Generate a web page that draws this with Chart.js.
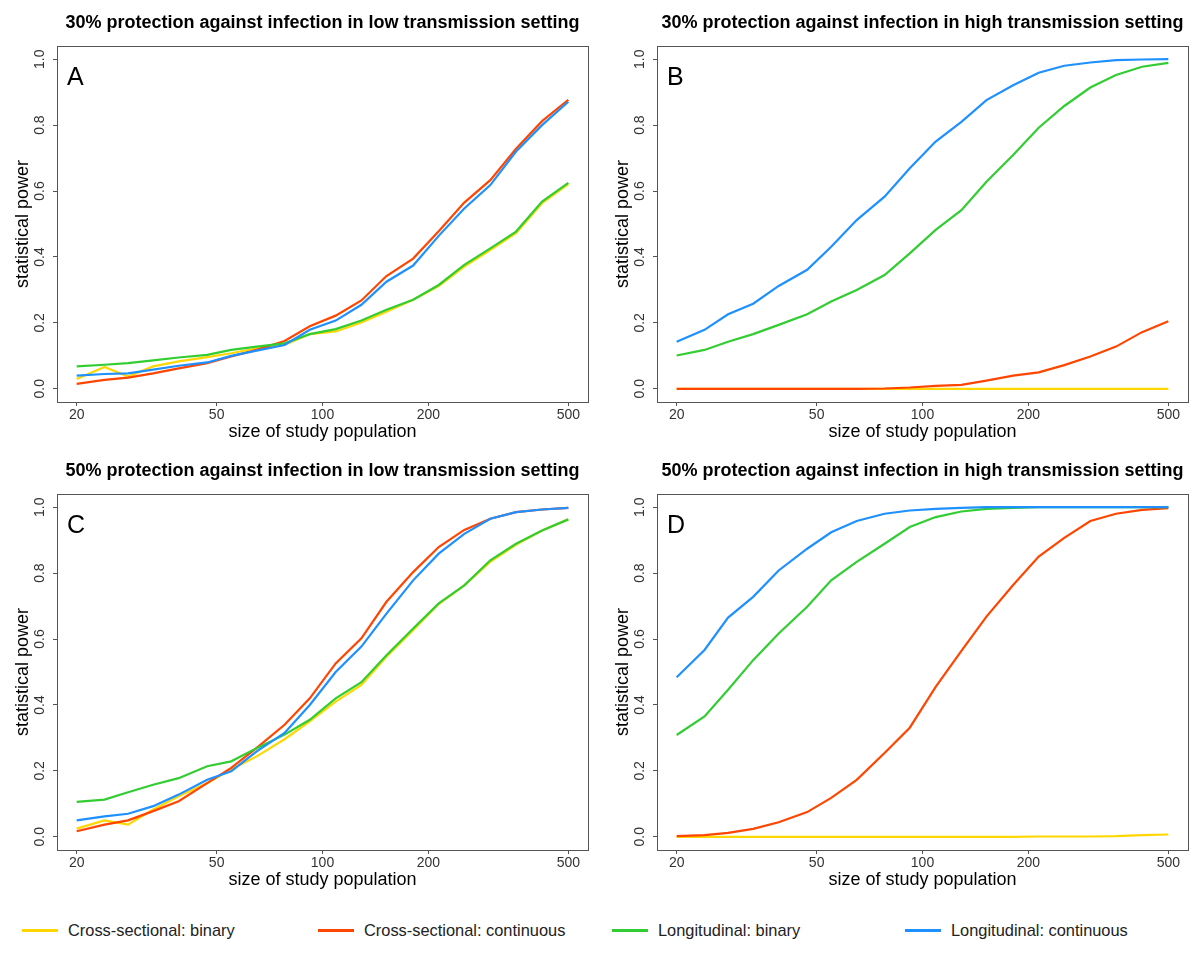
<!DOCTYPE html>
<html>
<head>
<meta charset="utf-8">
<script src="https://cdn.jsdelivr.net/npm/chart.js@4.4.1/dist/chart.umd.min.js"></script>
<style>
  html, body { margin: 0; padding: 0; background: #fff; }
  body { width: 1200px; height: 960px; position: relative; overflow: hidden; font-family: "Liberation Sans", Arial, sans-serif; }
  .panel { position: absolute; width: 600px; height: 448px; }
  .legend { position: absolute; top: 918px; left: 0; width: 1200px; height: 24px; }
  .item { position: absolute; top: 0; height: 24px; display: flex; align-items: center; font-size: 16.4px; color: #222; }
  .sw { width: 36px; height: 3px; margin-right: 10px; }
</style>
</head>
<body>
<div class="panel" style="left:0;top:0"><canvas id="cA" width="600" height="448"></canvas></div>
<div class="panel" style="left:600px;top:0"><canvas id="cB" width="600" height="448"></canvas></div>
<div class="panel" style="left:0;top:448px"><canvas id="cC" width="600" height="448"></canvas></div>
<div class="panel" style="left:600px;top:448px"><canvas id="cD" width="600" height="448"></canvas></div>
<div class="legend" id="legend"></div>
<script>
// ---- data ----
const studySizes = [20, 24, 28, 33, 39, 47, 55, 65, 78, 92, 109, 129, 152, 181, 214, 253, 300, 355, 421, 500];
const xTicks = [20, 50, 100, 200, 500];
const yTicks = [0, 0.2, 0.4, 0.6, 0.8, 1.0];
const seriesNames = ["Cross-sectional: binary", "Cross-sectional: continuous", "Longitudinal: binary", "Longitudinal: continuous"];
const seriesColors = ["#FFD700", "#FF4500", "#32CD32", "#1E90FF"];
const panelTitles = [
  "30% protection against infection in low transmission setting",
  "30% protection against infection in high transmission setting",
  "50% protection against infection in low transmission setting",
  "50% protection against infection in high transmission setting"
];
const panelLetters = ["A", "B", "C", "D"];

// Panel A
const A_csBinary = [0.030, 0.066, 0.037, 0.068, 0.083, 0.096, 0.108, 0.123, 0.133, 0.166, 0.174, 0.201, 0.234, 0.270, 0.312, 0.371, 0.421, 0.472, 0.563, 0.621];
const A_csCont   = [0.015, 0.027, 0.034, 0.047, 0.062, 0.078, 0.098, 0.118, 0.145, 0.190, 0.222, 0.268, 0.342, 0.395, 0.478, 0.565, 0.633, 0.728, 0.812, 0.877];
const A_loBinary = [0.068, 0.073, 0.078, 0.086, 0.095, 0.103, 0.118, 0.128, 0.138, 0.166, 0.181, 0.207, 0.240, 0.270, 0.315, 0.376, 0.426, 0.477, 0.568, 0.625];
const A_loCont   = [0.040, 0.045, 0.047, 0.058, 0.070, 0.080, 0.100, 0.116, 0.133, 0.179, 0.207, 0.255, 0.325, 0.374, 0.464, 0.547, 0.618, 0.720, 0.800, 0.871];
// Panel B
const B_csBinary = [0, 0, 0, 0, 0, 0, 0, 0, 0, 0, 0, 0, 0, 0, 0, 0, 0, 0, 0, 0];
const B_csCont   = [0, 0, 0, 0, 0, 0, 0, 0, 0.001, 0.004, 0.009, 0.012, 0.025, 0.040, 0.050, 0.072, 0.098, 0.128, 0.172, 0.205];
const B_loBinary = [0.101, 0.118, 0.143, 0.166, 0.194, 0.226, 0.265, 0.300, 0.345, 0.411, 0.482, 0.542, 0.628, 0.709, 0.792, 0.858, 0.914, 0.952, 0.977, 0.989];
const B_loCont   = [0.143, 0.179, 0.226, 0.258, 0.312, 0.361, 0.431, 0.512, 0.583, 0.669, 0.750, 0.810, 0.876, 0.921, 0.959, 0.980, 0.990, 0.997, 0.999, 1.000];
// Panel C
const C_csBinary = [0.025, 0.050, 0.037, 0.083, 0.123, 0.163, 0.204, 0.244, 0.296, 0.350, 0.410, 0.461, 0.546, 0.627, 0.706, 0.763, 0.834, 0.886, 0.929, 0.963];
const C_csCont   = [0.017, 0.037, 0.050, 0.078, 0.108, 0.163, 0.209, 0.270, 0.340, 0.420, 0.526, 0.602, 0.713, 0.803, 0.879, 0.931, 0.965, 0.985, 0.993, 0.998];
const C_loBinary = [0.106, 0.113, 0.135, 0.158, 0.178, 0.214, 0.229, 0.269, 0.310, 0.355, 0.420, 0.469, 0.551, 0.632, 0.708, 0.763, 0.839, 0.889, 0.929, 0.963];
const C_loCont   = [0.050, 0.062, 0.070, 0.093, 0.128, 0.173, 0.199, 0.259, 0.315, 0.400, 0.500, 0.577, 0.677, 0.778, 0.859, 0.919, 0.965, 0.985, 0.993, 0.998];
// Panel D
const D_csBinary = [0, 0, 0, 0, 0, 0, 0, 0, 0, 0, 0, 0, 0, 0, 0.001, 0.001, 0.001, 0.002, 0.005, 0.007];
const D_csCont   = [0.002, 0.005, 0.012, 0.024, 0.044, 0.075, 0.118, 0.173, 0.254, 0.331, 0.455, 0.564, 0.668, 0.764, 0.850, 0.907, 0.958, 0.980, 0.992, 0.997];
const D_loBinary = [0.309, 0.365, 0.446, 0.536, 0.617, 0.698, 0.778, 0.834, 0.889, 0.940, 0.970, 0.987, 0.995, 0.998, 1.000, 1.000, 1.000, 1.000, 1.000, 1.000];
const D_loCont   = [0.484, 0.567, 0.665, 0.728, 0.808, 0.874, 0.924, 0.958, 0.980, 0.990, 0.995, 0.998, 1.000, 1.000, 1.000, 1.000, 1.000, 1.000, 1.000, 1.000];

const panelData = [
  [A_csBinary, A_csCont, A_loBinary, A_loCont],
  [B_csBinary, B_csCont, B_loBinary, B_loCont],
  [C_csBinary, C_csCont, C_loBinary, C_loCont],
  [D_csBinary, D_csCont, D_loBinary, D_loCont]
];

// ---- drawing ----
const FONT = "'Liberation Sans', Arial, sans-serif";
const X_PAD = Math.log10(500 / 20) * 0.04;
const xMin = 20 / Math.pow(10, X_PAD);
const xMax = 500 * Math.pow(10, X_PAD);

const decorPlugin = {
  id: 'decor',
  afterDatasetsDraw(chart, args, opts) {
    const ctx = chart.ctx, a = chart.chartArea;
    ctx.save();
    ctx.strokeStyle = '#555';
    ctx.lineWidth = 1;
    ctx.strokeRect(Math.round(a.left) + 0.5, Math.round(a.top) + 0.5, Math.round(a.right - a.left), Math.round(a.bottom - a.top));
    ctx.fillStyle = '#000';
    ctx.font = "25px " + FONT;
    ctx.textBaseline = 'alphabetic';
    ctx.textAlign = 'left';
    ctx.fillText(opts.letter, a.left + 10, a.top + 39);
    ctx.font = "bold 18px " + FONT;
    ctx.textAlign = 'center';
    ctx.textBaseline = 'middle';
    ctx.fillText(opts.title, (a.left + a.right) / 2, 23);
    ctx.restore();
  }
};

function makePanel(id, idx) {
  const datasets = panelData[idx].map((vals, i) => ({
    label: seriesNames[i],
    data: vals,
    borderColor: seriesColors[i],
    backgroundColor: seriesColors[i],
    borderWidth: 2.2,
    pointRadius: 0,
    tension: 0,
    fill: false,
    order: 4 - i
  }));
  new Chart(document.getElementById(id), {
    type: 'line',
    data: { labels: studySizes, datasets },
    plugins: [decorPlugin],
    options: {
      responsive: false,
      animation: false,
      events: [],
      layout: { padding: { top: 46, right: 12, bottom: 3, left: 0 } },
      plugins: {
        legend: { display: false },
        tooltip: { enabled: false },
        decor: { title: panelTitles[idx], letter: panelLetters[idx] }
      },
      scales: {
        x: {
          type: 'logarithmic',
          min: xMin, max: xMax,
          offset: false,
          afterBuildTicks: s => { s.ticks = xTicks.map(v => ({ value: v })); },
          afterFit: s => { s.height = 43; },
          ticks: {
            autoSkip: false, maxRotation: 0, minRotation: 0,
            padding: 1, color: '#333',
            font: { family: FONT, size: 14 },
            callback: v => String(v)
          },
          grid: { drawOnChartArea: false, drawTicks: true, tickLength: 4, color: '#555' },
          border: { display: false },
          title: {
            display: true, text: 'size of study population', color: '#000',
            font: { family: FONT, size: 18 }, padding: { top: 0, bottom: 2 }
          }
        },
        y: {
          type: 'linear',
          min: -0.04, max: 1.04,
          afterBuildTicks: s => { s.ticks = yTicks.map(v => ({ value: v })); },
          afterFit: s => { s.width = 57; },
          ticks: {
            minRotation: 90, maxRotation: 90,
            crossAlign: 'center',
            padding: 3, color: '#333',
            font: { family: FONT, size: 14 },
            callback: v => Number(v).toFixed(1)
          },
          grid: { drawOnChartArea: false, drawTicks: true, tickLength: 4, color: '#555' },
          border: { display: false },
          title: {
            display: true, text: 'statistical power', color: '#000',
            font: { family: FONT, size: 18 }, padding: { top: 12, bottom: 0 }
          }
        }
      }
    }
  });
}

makePanel('cA', 0);
makePanel('cB', 1);
makePanel('cC', 2);
makePanel('cD', 3);

// legend
const legendLefts = [22, 318, 612, 905];
const legend = document.getElementById('legend');
seriesNames.forEach((name, i) => {
  const it = document.createElement('div');
  it.className = 'item';
  it.style.left = legendLefts[i] + 'px';
  const sw = document.createElement('span');
  sw.className = 'sw';
  sw.style.background = seriesColors[i];
  const tx = document.createElement('span');
  tx.textContent = name;
  it.appendChild(sw);
  it.appendChild(tx);
  legend.appendChild(it);
});
</script>
</body>
</html>
